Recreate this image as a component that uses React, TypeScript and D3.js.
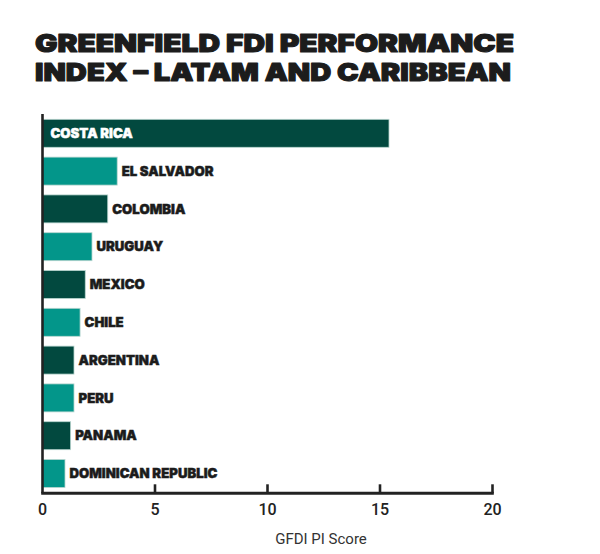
import { useEffect, useRef } from "react";
import * as d3 from "d3";

const countries = [
  "COSTA RICA",
  "EL SALVADOR",
  "COLOMBIA",
  "URUGUAY",
  "MEXICO",
  "CHILE",
  "ARGENTINA",
  "PERU",
  "PANAMA",
  "DOMINICAN REPUBLIC",
];
const scores = [15.4, 3.32, 2.9, 2.2, 1.9, 1.67, 1.4, 1.4, 1.25, 1.0];
const xTicks = [0, 5, 10, 15, 20];
const titleLines = ["GREENFIELD FDI PERFORMANCE", "INDEX – LATAM AND CARIBBEAN"];

const DARK = "#02493f";
const TEAL = "#03968a";
const HEAVY = "Inter, 'DejaVu Sans', sans-serif";

const App = () => {
  const ref = useRef(null);

  useEffect(() => {
    const width = 600;
    const height = 554;
    const svg = d3.select(ref.current);
    svg.selectAll("*").remove();
    svg.attr("width", width).attr("height", height);

    const data = countries.map((c, i) => ({ name: c, value: scores[i] }));

    const x = d3.scaleLinear().domain([0, 20]).range([42.5, 492.5]);
    const y = d3
      .scaleBand()
      .domain(countries)
      .range([114.4, 492.4])
      .paddingInner(0.26)
      .paddingOuter(0.13);

    // title, two lines
    svg
      .append("g")
      .selectAll("text")
      .data(titleLines)
      .join("text")
      .attr("x", 35)
      .attr("y", (d, i) => 51.5 + i * 29)
      .attr("font-family", HEAVY)
      .attr("font-weight", 900)
      .attr("font-size", 24.5)
      .attr("fill", "#1c1c1c")
      .attr("stroke", "#1c1c1c")
      .attr("stroke-width", 1.1)
      .attr("stroke-linejoin", "round")
      .attr("textLength", (d, i) => (i === 0 ? 479 : 476))
      .attr("lengthAdjust", "spacingAndGlyphs")
      .text((d) => d);

    // bars
    svg
      .append("g")
      .selectAll("rect")
      .data(data)
      .join("rect")
      .attr("x", x(0))
      .attr("y", (d) => y(d.name))
      .attr("width", (d) => x(d.value) - x(0))
      .attr("height", y.bandwidth())
      .attr("fill", (d, i) => (i % 2 === 0 ? DARK : TEAL))
      .attr("stroke", "#b9d6d0")
      .attr("stroke-width", 0.8);

    // bar labels
    svg
      .append("g")
      .selectAll("text")
      .data(data)
      .join("text")
      .attr("x", (d, i) => (i === 0 ? 50.5 : x(d.value) + 4.5))
      .attr("y", (d) => y(d.name) + y.bandwidth() / 2)
      .attr("dy", "0.36em")
      .attr("font-family", HEAVY)
      .attr("font-weight", 900)
      .attr("font-size", 13.2)
      .attr("fill", (d, i) => (i === 0 ? "#ffffff" : "#1c1c1c"))
      .attr("stroke", (d, i) => (i === 0 ? "#ffffff" : "#1c1c1c"))
      .attr("stroke-width", 0.45)
      .text((d) => d.name);

    // y axis line
    const axisY = 493.3;
    svg
      .append("line")
      .attr("x1", x(0))
      .attr("x2", x(0))
      .attr("y1", 114)
      .attr("y2", axisY)
      .attr("stroke", "#222")
      .attr("stroke-width", 2.6);

    // x axis with inward ticks
    const xAxis = svg.append("g").attr("transform", `translate(0,${axisY})`);
    xAxis
      .append("line")
      .attr("x1", x(0) - 1.3)
      .attr("x2", x(20) + 1.3)
      .attr("stroke", "#222")
      .attr("stroke-width", 3);
    xAxis
      .selectAll(".tick")
      .data(xTicks.slice(1))
      .join("line")
      .attr("class", "tick")
      .attr("x1", (d) => x(d))
      .attr("x2", (d) => x(d))
      .attr("y1", 0)
      .attr("y2", -9)
      .attr("stroke", "#222")
      .attr("stroke-width", 2.6);
    xAxis
      .selectAll(".tlabel")
      .data(xTicks)
      .join("text")
      .attr("class", "tlabel")
      .attr("x", (d) => x(d))
      .attr("y", 22)
      .attr("text-anchor", "middle")
      .attr("font-family", "Roboto, sans-serif")
      .attr("font-weight", 500)
      .attr("font-size", 16)
      .attr("fill", "#222")
      .text((d) => d);

    svg
      .append("text")
      .attr("x", 321)
      .attr("y", 544)
      .attr("text-anchor", "middle")
      .attr("font-family", "Roboto, sans-serif")
      .attr("font-size", 15)
      .attr("fill", "#333")
      .text("GFDI PI Score");
  }, []);

  return (
    <div style={{ position: "absolute", left: 0, top: 0 }}>
      <svg ref={ref} style={{ display: "block" }}></svg>
    </div>
  );
};

export default App;
